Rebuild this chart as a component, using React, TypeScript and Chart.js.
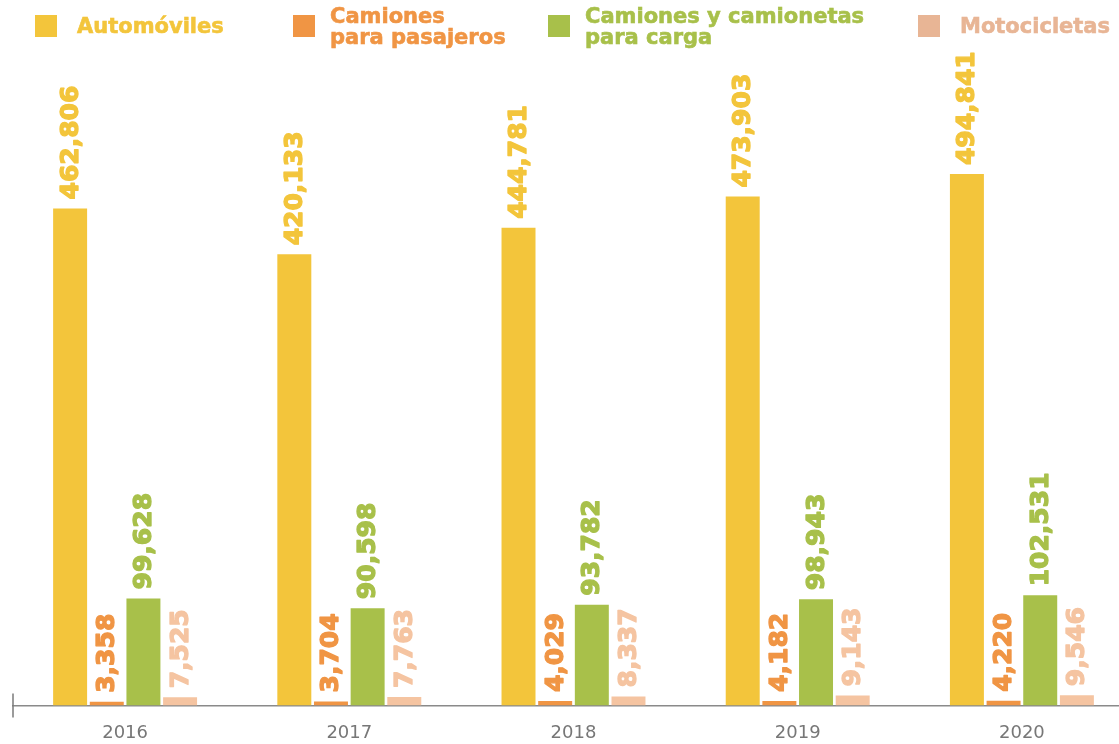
import React, { useEffect, useRef } from "react";
import { Chart, registerables } from "chart.js";

Chart.register(...registerables);

const years = ["2016", "2017", "2018", "2019", "2020"];
const automoviles = [462806, 420133, 444781, 473903, 494841];
const camionesPasajeros = [3358, 3704, 4029, 4182, 4220];
const camionesCarga = [99628, 90598, 93782, 98943, 102531];
const motocicletas = [7525, 7763, 8337, 9143, 9546];

const seriesNames = ["Automóviles", "Camiones\npara pasajeros", "Camiones y camionetas\npara carga", "Motocicletas"];
const barColors = ["#F3C53B", "#F09544", "#A8C04A", "#F5C4A1"];
const legendColors = ["#F3C53B", "#F09544", "#A8C04A", "#E8B595"];

const FONT = "'DejaVu Sans', sans-serif";

const labelPlugin = {
  id: "valueLabels",
  afterDatasetsDraw(chart: any) {
    const ctx = chart.ctx;
    chart.data.datasets.forEach((ds: any, di: number) => {
      const meta = chart.getDatasetMeta(di);
      meta.data.forEach((bar: any, i: number) => {
        const v = ds.data[i] as number;
        const txt = v.toLocaleString("en-US");
        ctx.save();
        ctx.translate(bar.x, bar.y - 9);
        ctx.rotate(-Math.PI / 2);
        ctx.font = `bold 25px ${FONT}`;
        ctx.fillStyle = barColors[di];
        ctx.strokeStyle = barColors[di];
        ctx.lineWidth = 1.3;
        ctx.lineJoin = "round";
        ctx.textAlign = "left";
        ctx.textBaseline = "middle";
        ctx.fillText(txt, 0, 1);
        ctx.strokeText(txt, 0, 1);
        ctx.restore();
      });
    });
  },
};

const tickPlugin = {
  id: "leftTick",
  afterDraw(chart: any) {
    const { ctx, chartArea } = chart;
    ctx.save();
    ctx.strokeStyle = "#7a7a7a";
    ctx.lineWidth = 1.5;
    ctx.beginPath();
    ctx.moveTo(chartArea.left, chartArea.bottom - 12);
    ctx.lineTo(chartArea.left, chartArea.bottom + 12);
    ctx.stroke();
    ctx.restore();
  },
};

export default function App() {
  const ref = useRef<HTMLCanvasElement>(null);
  useEffect(() => {
    if (!ref.current) return;
    const series = [automoviles, camionesPasajeros, camionesCarga, motocicletas];
    const chart = new Chart(ref.current, {
      type: "bar",
      data: {
        labels: years,
        datasets: series.map((d, i) => ({
          label: seriesNames[i],
          data: d,
          backgroundColor: barColors[i],
          borderWidth: 0,
          categoryPercentage: 0.654,
          barPercentage: 0.927,
        })),
      },
      options: {
        responsive: false,
        animation: false,
        devicePixelRatio: 1,
        layout: { padding: { left: 13, right: 0, top: 0, bottom: 1 } },
        plugins: { legend: { display: false }, tooltip: { enabled: false } },
        scales: {
          x: {
            grid: { display: false },
            border: { display: true, color: "#8a8a8a", width: 1.5 },
            ticks: { color: "#777777", font: { family: FONT, size: 18 }, padding: 9 },
          },
          y: { display: false, min: 0, max: 657000 },
        },
      },
      plugins: [labelPlugin, tickPlugin],
    });
    return () => chart.destroy();
  }, []);

  const legendItems = [
    { sq: 35, tx: 77, lines: 1 },
    { sq: 293, tx: 330, lines: 2 },
    { sq: 548, tx: 585, lines: 2 },
    { sq: 918, tx: 960, lines: 1 },
  ];

  return (
    <div style={{ position: "fixed", left: 0, top: 0, width: 1119, height: 744, overflow: "hidden", background: "#fff" }}>
      <canvas ref={ref} width={1134} height={754} style={{ position: "absolute", left: 0, top: 0, width: 1134, height: 754 }} />
      {legendItems.map((it, i) => (
        <React.Fragment key={i}>
          <div style={{ position: "absolute", left: it.sq, top: 15, width: 22, height: 22, background: legendColors[i] }} />
          <div
            style={{
              position: "absolute",
              left: it.tx,
              top: it.lines === 1 ? 16 : 6,
              fontFamily: FONT,
              fontWeight: "bold",
              fontSize: 21,
              lineHeight: "21px",
              color: legendColors[i],
              whiteSpace: "pre",
              WebkitTextStroke: `0.6px ${legendColors[i]}`,
            }}
          >
            {seriesNames[i]}
          </div>
        </React.Fragment>
      ))}
    </div>
  );
}
